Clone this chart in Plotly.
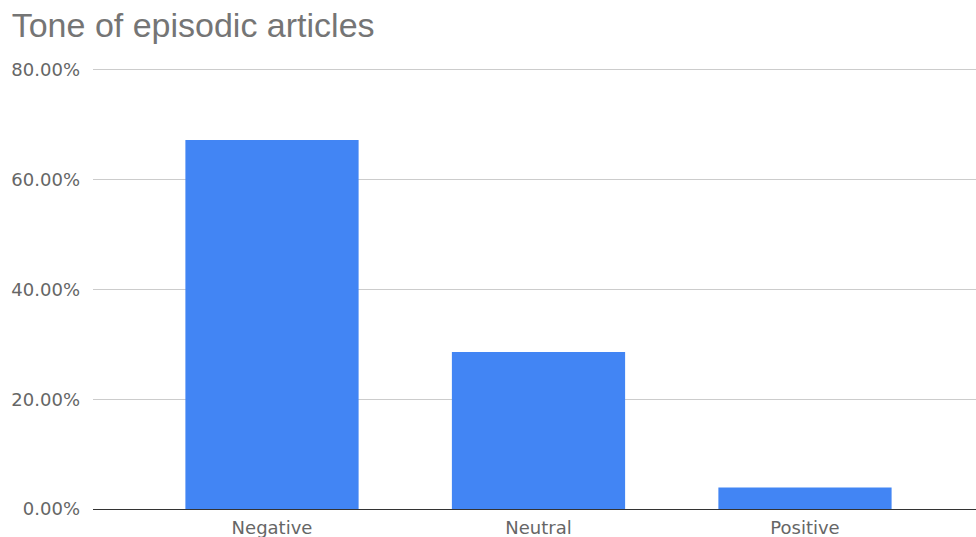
import plotly.graph_objects as go

categories = ["Negative", "Neutral", "Positive"]
values = [0.672, 0.286, 0.039]
y_ticks = [0, 0.2, 0.4, 0.6, 0.8]
y_tick_labels = ["0.00%", "20.00%", "40.00%", "60.00%", "80.00%"]

TICK_FONT = dict(size=18, color="#666666", family="DejaVu Sans, Liberation Sans, Arial, sans-serif")

fig = go.Figure(
    go.Bar(
        x=categories,
        y=values,
        width=0.65,
        marker=dict(color="#4285F4", line=dict(width=0)),
    )
)

fig.update_layout(
    width=976,
    height=537,
    paper_bgcolor="white",
    plot_bgcolor="white",
    margin=dict(l=93, r=0, t=67, b=28, autoexpand=False),
    font=dict(family="Liberation Sans, Arial, sans-serif", color="#666666"),
    title=dict(
        text="Tone of episodic articles",
        font=dict(size=34, color="#757575", family="Liberation Sans, Arial, sans-serif"),
        xref="container", yref="container",
        x=0.012, xanchor="left",
        y=1 - 25 / 537, yanchor="middle",
        pad=dict(l=0, t=0, b=0, r=0),
    ),
    showlegend=False,
    bargap=0.35,
)

fig.update_xaxes(
    type="category",
    range=[-0.6717, 2.6417],
    automargin=False,
    showgrid=False,
    showline=True,
    linecolor="#333333",
    linewidth=1,
    ticks="",
    tickfont=TICK_FONT,
    ticklabelstandoff=2,
)

fig.update_yaxes(
    range=[0, 0.805],
    automargin=False,
    tickvals=y_ticks,
    ticktext=y_tick_labels,
    showgrid=True,
    gridcolor="#cccccc",
    gridwidth=1,
    zeroline=False,
    showline=False,
    ticks="",
    tickfont=TICK_FONT,
    ticklabelstandoff=12,
)

fig.write_html(
    "out.html",
    config={"displayModeBar": False},
    post_script="document.body.style.margin='0';document.body.style.overflow='hidden';",
)
